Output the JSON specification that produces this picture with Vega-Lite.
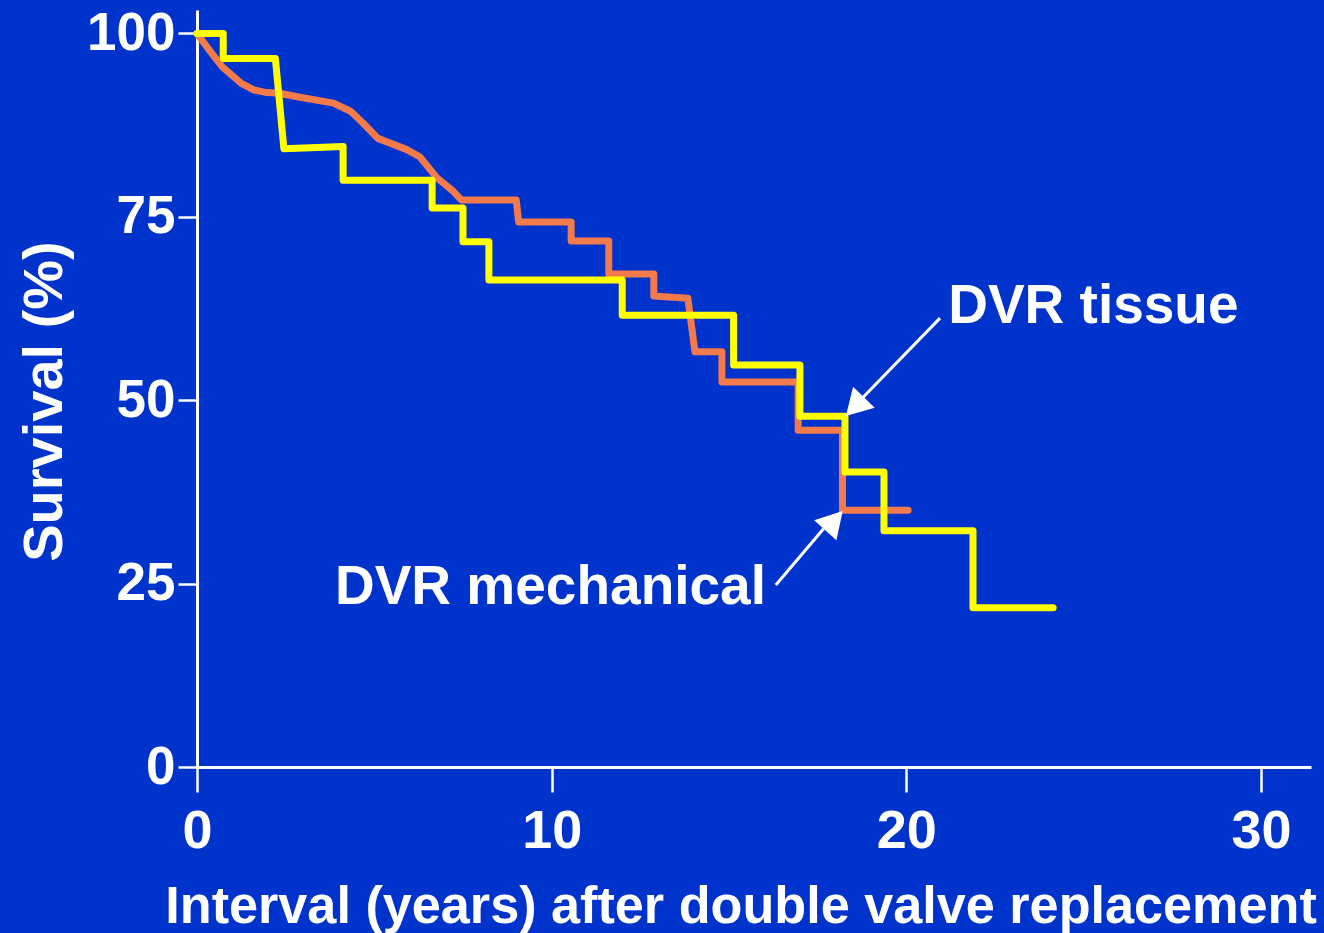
{
  "$schema": "https://vega.github.io/schema/vega-lite/v6.json",
  "width": 1114,
  "height": 757,
  "autosize": "none",
  "padding": {"left": 197, "top": 10, "right": 13, "bottom": 166},
  "background": "#0033CC",
  "config": {"view": {"stroke": null}, "font": "Liberation Sans"},
  "datasets": {
    "curves": [
      {"s": "mechanical", "i": 1, "x": 0, "y": 100},
      {"s": "mechanical", "i": 2, "x": 0.4, "y": 97.4},
      {"s": "mechanical", "i": 3, "x": 0.72, "y": 95.4},
      {"s": "mechanical", "i": 4, "x": 1.25, "y": 93.2},
      {"s": "mechanical", "i": 5, "x": 1.6, "y": 92.3},
      {"s": "mechanical", "i": 6, "x": 1.9, "y": 92.0},
      {"s": "mechanical", "i": 7, "x": 2.33, "y": 91.85},
      {"s": "mechanical", "i": 8, "x": 2.9, "y": 91.3},
      {"s": "mechanical", "i": 9, "x": 3.85, "y": 90.5},
      {"s": "mechanical", "i": 10, "x": 4.33, "y": 89.4},
      {"s": "mechanical", "i": 11, "x": 4.68, "y": 87.8},
      {"s": "mechanical", "i": 12, "x": 5.1, "y": 85.7},
      {"s": "mechanical", "i": 13, "x": 5.9, "y": 84.2},
      {"s": "mechanical", "i": 14, "x": 6.28, "y": 83.2},
      {"s": "mechanical", "i": 15, "x": 6.76, "y": 80.35},
      {"s": "mechanical", "i": 16, "x": 7.2, "y": 78.6},
      {"s": "mechanical", "i": 17, "x": 7.45, "y": 77.3},
      {"s": "mechanical", "i": 18, "x": 9.0, "y": 77.3},
      {"s": "mechanical", "i": 19, "x": 9.07, "y": 74.3},
      {"s": "mechanical", "i": 20, "x": 10.55, "y": 74.3},
      {"s": "mechanical", "i": 21, "x": 10.55, "y": 71.7},
      {"s": "mechanical", "i": 22, "x": 11.61, "y": 71.7},
      {"s": "mechanical", "i": 23, "x": 11.61, "y": 67.2},
      {"s": "mechanical", "i": 24, "x": 12.88, "y": 67.2},
      {"s": "mechanical", "i": 25, "x": 12.88, "y": 64.2},
      {"s": "mechanical", "i": 26, "x": 13.84, "y": 63.9},
      {"s": "mechanical", "i": 27, "x": 14.04, "y": 56.6},
      {"s": "mechanical", "i": 28, "x": 14.8, "y": 56.6},
      {"s": "mechanical", "i": 29, "x": 14.8, "y": 52.5},
      {"s": "mechanical", "i": 30, "x": 16.95, "y": 52.5},
      {"s": "mechanical", "i": 31, "x": 16.95, "y": 45.9},
      {"s": "mechanical", "i": 32, "x": 18.2, "y": 45.9},
      {"s": "mechanical", "i": 33, "x": 18.2, "y": 35.0},
      {"s": "mechanical", "i": 34, "x": 20.05, "y": 35.0},
      {"s": "tissue", "i": 101, "x": 0, "y": 100},
      {"s": "tissue", "i": 102, "x": 0.74, "y": 100},
      {"s": "tissue", "i": 103, "x": 0.74, "y": 96.6},
      {"s": "tissue", "i": 104, "x": 2.21, "y": 96.6},
      {"s": "tissue", "i": 105, "x": 2.45, "y": 84.3},
      {"s": "tissue", "i": 106, "x": 4.12, "y": 84.6},
      {"s": "tissue", "i": 107, "x": 4.12, "y": 80.0},
      {"s": "tissue", "i": 108, "x": 6.63, "y": 80.0},
      {"s": "tissue", "i": 109, "x": 6.63, "y": 76.2},
      {"s": "tissue", "i": 110, "x": 7.5, "y": 76.2},
      {"s": "tissue", "i": 111, "x": 7.5, "y": 71.6},
      {"s": "tissue", "i": 112, "x": 8.23, "y": 71.6},
      {"s": "tissue", "i": 113, "x": 8.23, "y": 66.4},
      {"s": "tissue", "i": 114, "x": 11.99, "y": 66.4},
      {"s": "tissue", "i": 115, "x": 11.99, "y": 61.6},
      {"s": "tissue", "i": 116, "x": 15.13, "y": 61.6},
      {"s": "tissue", "i": 117, "x": 15.13, "y": 54.8},
      {"s": "tissue", "i": 118, "x": 17.0, "y": 54.8},
      {"s": "tissue", "i": 119, "x": 17.0, "y": 47.8},
      {"s": "tissue", "i": 120, "x": 18.27, "y": 47.8},
      {"s": "tissue", "i": 121, "x": 18.27, "y": 40.2},
      {"s": "tissue", "i": 122, "x": 19.37, "y": 40.2},
      {"s": "tissue", "i": 123, "x": 19.37, "y": 32.2},
      {"s": "tissue", "i": 124, "x": 21.88, "y": 32.2},
      {"s": "tissue", "i": 125, "x": 21.88, "y": 21.7},
      {"s": "tissue", "i": 126, "x": 24.14, "y": 21.7}
    ],
    "arrows": [
      {"x": 20.95, "y": 61.2, "x2": 18.5, "y2": 49.0},
      {"x": 16.32, "y": 24.8, "x2": 17.9, "y2": 33.8}
    ],
    "heads": [
      {"x": 18.55, "y": 49.13, "a": 224},
      {"x": 17.96, "y": 33.58, "a": 42}
    ],
    "labels": [
      {"x": 21.18, "y": 60.5, "t": "DVR tissue"},
      {"x": 3.89, "y": 22.2, "t": "DVR mechanical"}
    ]
  },
  "encoding": {
    "x": {
      "field": "x", "type": "quantitative",
      "scale": {"domain": [0, 31.41], "nice": false, "zero": false},
      "axis": {
        "values": [0, 10, 20, 30],
        "grid": false,
        "domainColor": "white", "domainWidth": 3,
        "tickColor": "white", "tickWidth": 2.5, "tickSize": 25,
        "labelColor": "white", "labelFont": "Liberation Sans", "labelFontWeight": "bold",
        "labelFontSize": 54, "labelPadding": 12, "labelFlush": false, "labelOverlap": false,
        "title": "Interval (years) after double valve replacement",
        "titleColor": "white", "titleFont": "Liberation Sans", "titleFontWeight": "bold",
        "titleFontSize": 52.2, "titleX": 543.5, "titleY": 155, "titleBaseline": "alphabetic", "titleAlign": "center"
      }
    },
    "y": {
      "field": "y", "type": "quantitative",
      "scale": {"domain": [0, 103.2], "nice": false, "zero": false},
      "axis": {
        "values": [0, 25, 50, 75, 100],
        "grid": false,
        "domainColor": "white", "domainWidth": 3,
        "tickColor": "white", "tickWidth": 2.5, "tickSize": 19,
        "labelColor": "white", "labelFont": "Liberation Sans", "labelFontWeight": "bold",
        "labelFontSize": 53, "labelPadding": 3, "labelFlush": false, "labelOverlap": false,
        "title": "Survival (%)",
        "titleColor": "white", "titleFont": "Liberation Sans", "titleFontWeight": "bold",
        "titleFontSize": 56, "titleAngle": -90, "titleX": -136, "titleY": 391,
        "titleBaseline": "alphabetic", "titleAlign": "center"
      }
    }
  },
  "layer": [
    {
      "data": {"name": "curves"},
      "mark": {"type": "line", "strokeWidth": 7, "strokeCap": "round", "strokeJoin": "round"},
      "encoding": {
        "color": {"field": "s", "type": "nominal", "scale": {"domain": ["mechanical", "tissue"], "range": ["#F37A4A", "#FFFF00"]}, "legend": null},
        "order": {"field": "i", "type": "quantitative"}
      }
    },
    {
      "data": {"name": "arrows"},
      "mark": {"type": "rule", "color": "white", "strokeWidth": 3},
      "encoding": {
        "x2": {"field": "x2"},
        "y2": {"field": "y2"}
      }
    },
    {
      "data": {"name": "heads"},
      "mark": {"type": "point", "shape": "triangle-up", "filled": true, "color": "white", "opacity": 1, "size": 900},
      "encoding": {
        "angle": {"field": "a", "type": "quantitative", "scale": null}
      }
    },
    {
      "data": {"name": "labels"},
      "mark": {"type": "text", "color": "white", "font": "Liberation Sans", "fontWeight": "bold", "fontSize": 55, "align": "left", "baseline": "alphabetic"},
      "encoding": {
        "text": {"field": "t", "type": "nominal"}
      }
    }
  ]
}
